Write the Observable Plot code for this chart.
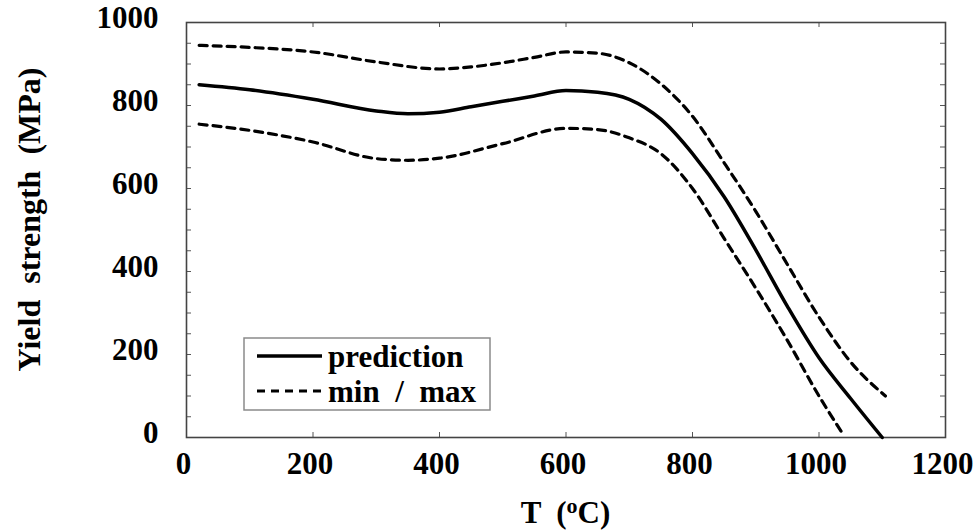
<!DOCTYPE html>
<html>
<head>
<meta charset="utf-8">
<script src="https://cdn.jsdelivr.net/npm/d3@7"></script>
<script src="https://cdn.jsdelivr.net/npm/@observablehq/plot@0.6"></script>
<style>
  html, body { margin: 0; padding: 0; background: #fff; }
  #chart svg { display: block; overflow: visible; }
  #chart svg text { font-family: "Liberation Serif", Tinos, "Times New Roman", "DejaVu Serif", serif !important; font-weight: bold; }
</style>
</head>
<body>
<div id="chart"></div>
<script>
// Yield strength versus temperature: predicted curve with min / max band
const predT   = [20, 100, 200, 300, 350, 400, 450, 500, 550, 600, 650, 700, 750, 800, 850, 900, 950, 1000, 1050, 1100];
const predVal = [850, 838, 815, 787, 780, 784, 797, 810, 823, 836, 832, 815, 767, 684, 580, 452, 316, 192, 94, 0];

const maxT   = [20, 100, 200, 300, 400, 450, 500, 550, 600, 650, 700, 750, 800, 850, 900, 950, 1000, 1050, 1105];
const maxVal = [945, 940, 929, 905, 888, 893, 903, 916, 929, 926, 903, 852, 774, 662, 545, 417, 290, 182, 100];

const minT   = [20, 100, 200, 300, 350, 400, 500, 600, 650, 700, 750, 800, 850, 900, 950, 1000, 1035];
const minVal = [755, 740, 712, 672, 668, 673, 708, 745, 742, 722, 684, 600, 480, 360, 234, 100, 15];

const xTicks = [0, 200, 400, 600, 800, 1000, 1200];
const yTicks = [0, 200, 400, 600, 800, 1000];
const yMinorTicks = [0, 50, 100, 150, 200, 250, 300, 350, 400, 450, 500, 550, 600, 650, 700, 750, 800, 850, 900, 950, 1000];

const xLabel = "T  (";
const yLabel = "Yield  strength  (MPa)";
const legendItems = ["prediction", "min  /  max"];

const toRows = (ts, vs) => ts.map((t, i) => ({t, v: vs[i]}));
const pred = toRows(predT, predVal);
const maxRows = toRows(maxT, maxVal);
const minRows = toRows(minT, minVal);

const W = 974, H = 531;
const mL = 186, mR = 29, mT = 22, mB = 94;
const plotW = W - mL - mR, plotH = H - mT - mB;
const tickLen = 5;
const font = "Liberation Serif, Tinos, Times New Roman, DejaVu Serif, serif";
const tickStyle = {stroke: "#555", strokeWidth: 1};

const chart = Plot.plot({
  width: W,
  height: H,
  marginLeft: mL,
  marginRight: mR,
  marginTop: mT,
  marginBottom: mB,
  style: {fontFamily: font, fontWeight: "bold", fontSize: "31px", color: "black", background: "white", overflow: "visible"},
  x: {domain: [0, 1200]},
  y: {domain: [0, 1000]},
  marks: [
    // inward tick marks on all four sides of the frame
    Plot.tickX(xTicks, {x: d => d, insetTop: plotH - tickLen, ...tickStyle}),
    Plot.tickX(xTicks, {x: d => d, insetBottom: plotH - tickLen, ...tickStyle}),
    Plot.tickY(yMinorTicks, {y: d => d, insetRight: plotW - tickLen, ...tickStyle}),
    Plot.tickY(yMinorTicks, {y: d => d, insetLeft: plotW - tickLen, ...tickStyle}),
    // tick labels
    Plot.axisX({anchor: "bottom", ticks: xTicks, tickSize: 0, tickPadding: 14, dx: -3, tickFormat: d => String(d), label: null}),
    Plot.axisY({anchor: "left", ticks: yTicks, tickSize: 0, tickPadding: 28, dy: -4, tickFormat: d => String(d), label: null}),
    Plot.frame({stroke: "#444", strokeWidth: 1.6}),
    Plot.line(maxRows, {x: "t", y: "v", curve: "monotone-x", stroke: "black", strokeWidth: 3.2, strokeDasharray: "8,6"}),
    Plot.line(minRows, {x: "t", y: "v", curve: "monotone-x", stroke: "black", strokeWidth: 3.2, strokeDasharray: "8,6"}),
    Plot.line(pred, {x: "t", y: "v", curve: "monotone-x", stroke: "black", strokeWidth: 3.5})
  ]
});

document.getElementById("chart").appendChild(chart);

const svg = d3.select(chart);

// axis titles
svg.append("text")
  .attr("transform", `translate(40,${(mT + H - mB) / 2 - 10}) rotate(-90)`)
  .attr("text-anchor", "middle")
  .style("white-space", "pre")
  .attr("font-size", 32)
  .text(yLabel);

const xt = svg.append("text")
  .attr("x", (mL + W - mR) / 2)
  .attr("y", 523)
  .attr("text-anchor", "middle")
  .style("white-space", "pre")
  .attr("font-size", 31);
xt.append("tspan").text(xLabel);
xt.append("tspan").attr("font-size", 22).attr("dy", -10).text("o");
xt.append("tspan").attr("dy", 10).text("C)");

// legend box
const lg = svg.append("g");
lg.append("rect").attr("x", 244).attr("y", 338).attr("width", 246).attr("height", 72)
  .attr("fill", "white").attr("stroke", "#8a8a8a").attr("stroke-width", 1.5);
lg.append("line").attr("x1", 257).attr("x2", 322).attr("y1", 356).attr("y2", 356)
  .attr("stroke", "black").attr("stroke-width", 3.5);
lg.append("line").attr("x1", 257).attr("x2", 322).attr("y1", 391).attr("y2", 391)
  .attr("stroke", "black").attr("stroke-width", 3.2).attr("stroke-dasharray", "8,6");
legendItems.forEach((name, i) => {
  lg.append("text").attr("x", 328).attr("y", 367 + i * 35)
    .attr("text-anchor", "start")
    .style("white-space", "pre")
    .attr("font-size", 31)
    .text(name);
});
</script>
</body>
</html>
